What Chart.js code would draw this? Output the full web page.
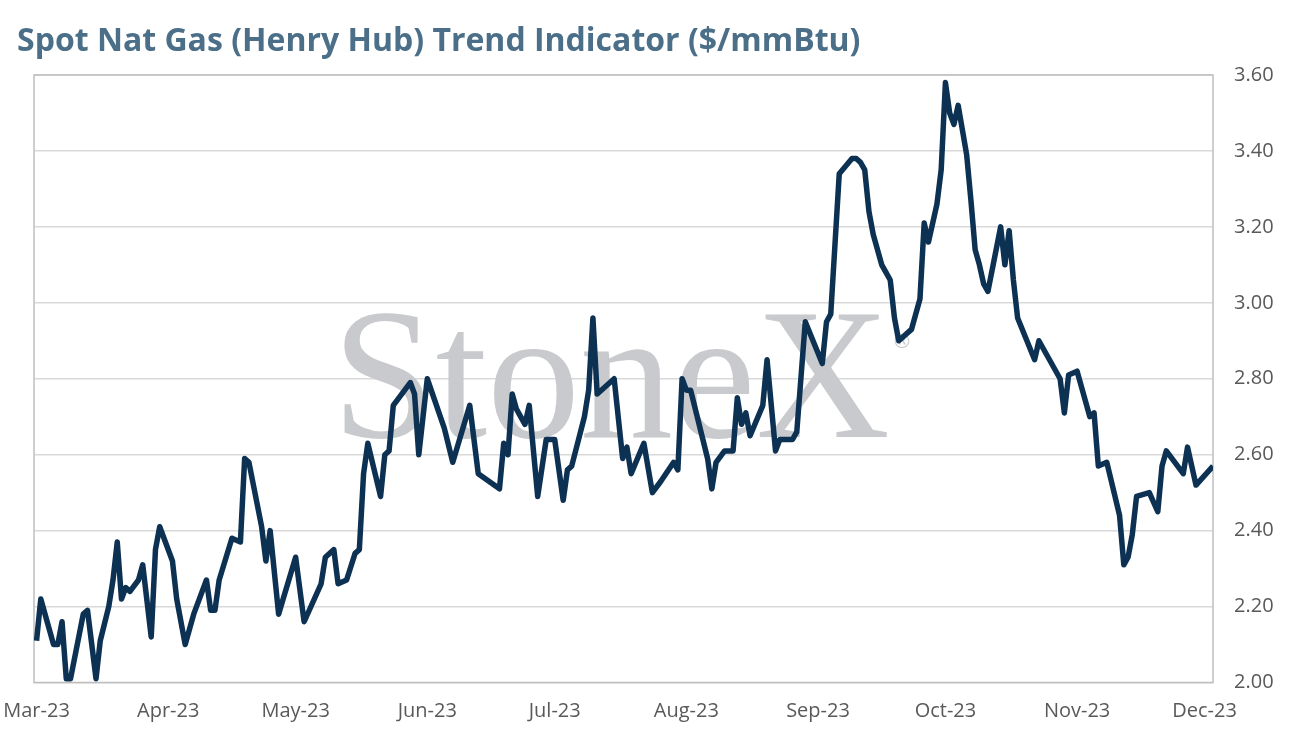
<!DOCTYPE html>
<html lang="en">
<head>
  <meta charset="UTF-8">
  <title>Spot Nat Gas (Henry Hub) Trend Indicator</title>
  <script src="https://cdn.jsdelivr.net/npm/chart.js"></script>
  <style>
    html, body { margin: 0; padding: 0; background: #fff; }
    canvas { display: block; }
  </style>
</head>
<body>
  <canvas id="gasChart" width="1290" height="741"></canvas>

  <script>
    const chartTitle = 'Spot Nat Gas (Henry Hub) Trend Indicator ($/mmBtu)';

    // days counted from 1 Mar 2023, one row per month
    const days = [
      0, 1, 4, 5, 6, 7, 8, 11, 12, 14, 15, 17, 18, 19, 20, 21, 22, 24, 25, 27, 28, 29,
      32, 33, 35, 37, 40, 41, 42, 43, 46, 48, 49, 50, 53, 54, 55, 57,
      61, 63, 67, 68, 70, 71, 73, 75, 76, 77, 78, 81, 82, 83, 84, 88, 89, 90,
      92, 96, 98, 102, 104, 109, 110, 111, 112, 113, 115, 116, 118, 120,
      122, 124, 125, 126, 129, 130, 131, 132, 136, 138, 139, 140, 143, 145, 147, 150, 151, 152,
      153, 154, 158, 159, 160, 162, 164, 165, 166, 167, 168, 171, 172, 174, 175, 178, 179, 181,
      185, 186, 187, 189, 192, 193, 194, 195, 196, 197, 199, 200, 201, 202, 203, 206, 208, 209, 210, 212, 213,
      214, 215, 216, 217, 219, 220, 221, 222, 223, 224, 227, 228, 229, 230, 231, 235, 236, 241, 242, 243,
      245, 248, 249, 250, 252, 255, 256, 257, 258, 259, 262, 264, 265, 266, 270, 271, 273, 277
    ];
    const prices = [
      2.11, 2.22, 2.10, 2.10, 2.16, 2.01, 2.01, 2.18, 2.19, 2.01, 2.11, 2.20, 2.27, 2.37, 2.22, 2.25, 2.24, 2.27, 2.31, 2.12, 2.35, 2.41,
      2.32, 2.22, 2.10, 2.18, 2.27, 2.19, 2.19, 2.27, 2.38, 2.37, 2.59, 2.58, 2.41, 2.32, 2.40, 2.18,
      2.33, 2.16, 2.26, 2.33, 2.35, 2.26, 2.27, 2.34, 2.35, 2.55, 2.63, 2.49, 2.60, 2.61, 2.73, 2.79, 2.76, 2.60,
      2.80, 2.67, 2.58, 2.73, 2.55, 2.51, 2.63, 2.60, 2.76, 2.72, 2.68, 2.73, 2.49, 2.64,
      2.64, 2.48, 2.56, 2.57, 2.70, 2.77, 2.96, 2.76, 2.80, 2.59, 2.62, 2.55, 2.63, 2.50, 2.53, 2.58, 2.56, 2.80,
      2.77, 2.77, 2.59, 2.51, 2.58, 2.61, 2.61, 2.75, 2.68, 2.71, 2.65, 2.73, 2.85, 2.61, 2.64, 2.64, 2.66, 2.95,
      2.84, 2.95, 2.97, 3.34, 3.38, 3.38, 3.37, 3.35, 3.24, 3.18, 3.10, 3.08, 3.06, 2.96, 2.90, 2.93, 3.01, 3.21, 3.16, 3.26, 3.35,
      3.58, 3.50, 3.47, 3.52, 3.39, 3.27, 3.14, 3.10, 3.05, 3.03, 3.20, 3.10, 3.19, 3.06, 2.96, 2.85, 2.90, 2.80, 2.71, 2.81,
      2.82, 2.70, 2.71, 2.57, 2.58, 2.44, 2.31, 2.33, 2.39, 2.49, 2.50, 2.45, 2.57, 2.61, 2.55, 2.62, 2.52, 2.57
    ];

    const monthStarts = [0, 31, 61, 92, 122, 153, 184, 214, 245, 275];
    const monthLabels = ['Mar-23', 'Apr-23', 'May-23', 'Jun-23', 'Jul-23', 'Aug-23', 'Sep-23', 'Oct-23', 'Nov-23', 'Dec-23'];
    const priceTicks = [2.00, 2.20, 2.40, 2.60, 2.80, 3.00, 3.20, 3.40, 3.60];

    const points = days.map((d, i) => ({ x: d, y: prices[i] }));

    // title, watermark and plot frame
    const decor = {
      id: 'decor',
      beforeDatasetsDraw(chart) {
        const { ctx, chartArea: a } = chart;
        ctx.save();
        ctx.fillStyle = '#c9cacd';
        ctx.textBaseline = 'alphabetic';
        ctx.font = '186px "Liberation Serif"';
        ctx.fillText('StoneX', 332, 437);
        ctx.font = '20px "DejaVu Sans"';
        ctx.fillText('\u00AE', 892, 348);
        ctx.strokeStyle = '#bfbfbf';
        ctx.lineWidth = 1.5;
        ctx.strokeRect(a.left, a.top, a.right - a.left, a.bottom - a.top);
        ctx.restore();
      },
      afterDraw(chart) {
        const ctx = chart.ctx;
        ctx.save();
        ctx.fillStyle = '#4b6f88';
        ctx.font = 'bold 32px "Open Sans"';
        ctx.textBaseline = 'alphabetic';
        ctx.fillText(chartTitle, 17, 51);
        ctx.restore();
      }
    };

    new Chart(document.getElementById('gasChart'), {
      type: 'line',
      data: {
        datasets: [{
          data: points,
          borderColor: '#0c3152',
          borderWidth: 5.5,
          borderJoinStyle: 'round',
          pointRadius: 0,
          tension: 0,
          fill: false
        }]
      },
      options: {
        responsive: false,
        animation: false,
        layout: { padding: { top: 75, left: 34, right: 0, bottom: 0 } },
        plugins: { legend: { display: false }, tooltip: { enabled: false }, title: { display: false } },
        scales: {
          x: {
            type: 'linear',
            min: -0.6,
            max: 277,
            grid: { display: false, drawTicks: false },
            border: { display: false },
            afterBuildTicks: s => { s.ticks = monthStarts.map(v => ({ value: v })); },
            afterFit: s => { s.height = 58.5; s.paddingLeft = 0; s.paddingRight = 0; },
            ticks: {
              autoSkip: false,
              maxRotation: 0,
              padding: 17,
              color: '#595959',
              font: { family: 'Open Sans', size: 20 },
              callback: v => monthLabels[monthStarts.indexOf(v)]
            }
          },
          y: {
            position: 'right',
            min: 2,
            max: 3.6,
            grid: { color: '#d9d9d9', lineWidth: 1.5, drawTicks: false },
            border: { display: false },
            afterBuildTicks: s => { s.ticks = priceTicks.map(v => ({ value: v })); },
            afterFit: s => { s.width = 77; s.paddingTop = 0; s.paddingBottom = 0; },
            ticks: {
              padding: 21,
              color: '#595959',
              font: { family: 'Open Sans', size: 20 },
              callback: v => v.toFixed(2)
            }
          }
        }
      },
      plugins: [decor]
    });
  </script>
</body>
</html>
